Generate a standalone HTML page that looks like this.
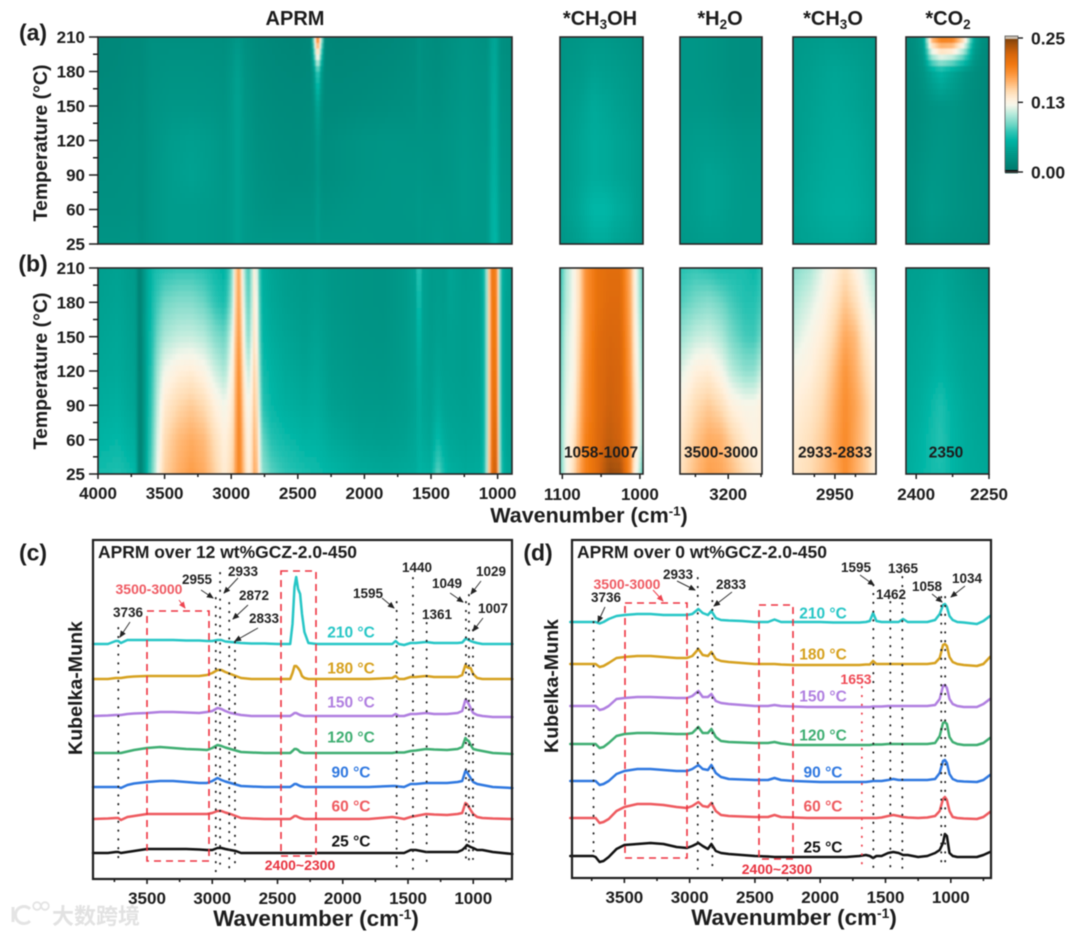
<!DOCTYPE html>
<html lang="en">
<head>
<meta charset="utf-8">
<title>Kubelka-Munk heatmaps and spectra</title>
<style>
html,body{margin:0;padding:0;background:#fff;}
svg{display:block;filter:blur(0.4px);}
text{font-family:"Liberation Sans","Noto Sans CJK SC",sans-serif;font-weight:bold;}
</style>
</head>
<body>
<svg id="figure" xmlns="http://www.w3.org/2000/svg" width="1080" height="935" viewBox="0 0 1080 935">
  <defs>
    <filter id="soft" x="-5%" y="-5%" width="110%" height="110%"><feGaussianBlur stdDeviation="0.8"/></filter>
    <marker id="arrowBlack" markerWidth="7" markerHeight="6" refX="6" refY="3" orient="auto" markerUnits="userSpaceOnUse"><path d="M0,0 L7,3 L0,6 Z" fill="#222"/></marker>
    <marker id="arrowRed" markerWidth="7" markerHeight="6" refX="6" refY="3" orient="auto" markerUnits="userSpaceOnUse"><path d="M0,0 L7,3 L0,6 Z" fill="#ee4450"/></marker>
  </defs>
</svg>
<script>
// ---------- Shared axis data ----------
const temperatureLabels = [210, 180, 150, 120, 90, 60, 25];
const colorbarTicks = [0, 0.13, 0.25];
const colormapValues = [0, 0.025, 0.04, 0.06, 0.075, 0.09, 0.11, 0.125, 0.135, 0.15, 0.17, 0.185, 0.2, 0.22, 0.24, 0.25];
const colormapColors = ['#00766a','#008f80','#009e8e','#00b5a5','#2fc4b4','#72d7c6','#bcebdc','#f4f6ea','#fff1de','#ffddb5','#ffb068','#fb9235','#f27a12','#d8660a','#a04f0a','#7a3f0a'];

// ---------- Heatmap (a) full range, intensities in 0.001 units ----------
const aMainWavenumbers = [4000,3850,3720,3680,3600,3450,3300,3150,3050,2990,2950,2900,2800,2650,2500,2400,2375,2350,2325,2300,2200,2000,1800,1620,1590,1560,1450,1350,1250,1150,1080,1050,1030,1010,980,892];
const aMainT210 = [17,18,20,20,25,25,25,25,24,28,33,26,20,17,15,17,120,215,120,17,15,16,18,22,28,25,22,26,30,28,26,40,48,44,26,22];
const aMainT180 = [18,19,22,21,27,29,29,28,27,34,42,30,22,19,18,19,40,85,40,19,18,19,21,24,30,26,24,28,32,30,30,42,52,46,28,24];
const aMainT150 = [20,21,24,22,29,32,32,31,29,36,44,32,24,21,20,21,28,48,28,20,20,22,24,26,30,28,26,30,33,31,30,44,56,48,30,26];
const aMainT120 = [23,24,26,24,30,38,41,37,32,37,44,34,26,23,22,23,26,36,26,23,26,30,31,30,30,30,30,32,35,33,32,45,56,50,32,28];
const aMainT90  = [25,26,27,24,31,39,43,38,33,37,44,35,28,24,23,24,26,34,26,24,26,30,32,32,33,32,30,32,36,34,34,48,58,52,34,30];
const aMainT60  = [27,27,28,24,32,38,38,36,34,38,44,36,30,27,28,28,30,38,30,28,30,32,32,33,36,33,34,33,36,34,34,50,62,55,36,32];
const aMainT25  = [30,30,31,26,32,38,38,36,34,38,44,36,34,34,34,33,33,38,33,33,33,33,32,32,34,33,36,33,34,34,34,50,62,58,36,34];

// ---------- Heatmap (b) full range ----------
const bMainWavenumbers = [4000,3850,3720,3690,3660,3620,3580,3540,3500,3400,3300,3200,3120,3050,3000,2975,2955,2935,2910,2880,2855,2838,2820,2800,2770,2700,2600,2450,2360,2250,2050,1850,1700,1610,1590,1570,1500,1450,1400,1360,1250,1130,1090,1072,1055,1035,1015,1000,990,975,940,892];
const bMainT210 = [40,43,36,8,30,52,65,70,72,75,75,72,64,58,85,130,178,168,120,80,85,125,145,92,55,46,40,35,38,33,30,29,35,46,98,44,37,38,37,46,38,42,72,128,195,205,195,180,118,62,46,40];
const bMainT180 = [42,45,38,8,30,55,72,82,90,95,95,88,75,68,95,135,178,172,130,88,90,128,150,100,58,48,42,37,40,34,30,29,35,44,82,44,37,40,38,44,40,42,70,125,190,205,198,182,118,60,44,40];
const bMainT150 = [45,48,40,8,30,58,78,95,105,112,113,108,95,88,115,145,180,178,140,98,102,135,155,108,62,52,46,40,44,36,31,30,36,44,70,44,38,42,40,42,40,43,70,125,190,205,200,185,118,60,44,40];
const bMainT120 = [48,50,42,8,28,60,85,110,125,135,138,130,115,105,128,150,185,185,150,115,118,142,165,120,68,58,50,44,48,38,33,32,36,44,60,44,40,46,42,42,40,44,70,125,192,205,205,188,120,60,44,40];
const bMainT90  = [52,55,45,8,28,62,90,120,140,152,158,150,135,125,138,155,188,190,158,128,128,150,170,130,75,62,55,50,52,42,36,35,38,44,56,46,42,52,45,44,42,45,70,125,192,208,212,190,120,62,44,40];
const bMainT60  = [58,62,52,8,28,65,95,128,150,165,172,165,148,135,145,160,190,192,165,135,132,160,175,140,90,72,65,58,58,50,42,40,42,48,56,50,46,65,52,48,45,47,72,125,192,212,222,195,122,65,46,42];
const bMainT25  = [66,70,62,8,30,70,100,135,155,170,180,172,155,138,150,165,190,192,170,140,135,165,180,150,100,85,75,68,65,60,52,48,50,52,60,58,55,88,65,55,50,52,75,128,195,215,232,200,125,70,50,45];

// ---------- Zoomed heatmaps: top row 210 C, bottom row 25 C ----------
const aCh3ohWavenumbers = [1103,1090,1075,1060,1045,1030,1015,1005,996];
const aCh3ohValues = [
 [28,30,32,34,34,32,30,28,26],[30,34,36,42,40,38,34,32,30],[32,38,42,50,46,42,38,34,32],
 [34,40,46,52,50,46,42,38,34],[34,40,46,52,50,46,42,38,34],[34,42,50,62,62,54,48,40,34],[32,36,42,50,50,44,40,36,32]];
const h2oWavenumbers = [3347,3300,3260,3225,3190,3150,3120,3097];
const aH2oValues = [
 [32,32,30,28,25,24,24,26],[32,32,30,28,25,24,24,26],[33,33,32,30,27,26,26,28],
 [35,38,38,36,34,32,32,33],[36,40,44,42,38,35,34,35],[36,40,44,42,38,36,36,36],[34,36,38,38,36,36,36,36]];
const ch3oWavenumbers = [3052,3010,2975,2950,2925,2900,2875,2850];
const aCh3oValues = [
 [34,36,38,38,36,35,34,33],[36,40,44,46,44,42,38,35],[38,42,46,48,46,44,40,37],
 [38,44,48,50,50,48,44,38],[40,46,50,52,52,50,46,40],[42,48,52,54,54,52,48,42],[40,44,46,48,48,46,42,38]];
const aCo2Wavenumbers = [2421,2400,2385,2370,2350,2325,2300,2280,2265,2250];
const aCo2Values = [
 [20,26,40,170,205,205,150,45,26,20],[20,24,30,45,60,45,30,24,20,18],[20,22,25,28,30,30,25,22,20,18],
 [22,24,27,30,32,30,26,24,22,20],[24,27,30,33,33,30,26,25,24,22],[24,28,32,36,34,30,27,25,24,22],[22,26,28,30,28,26,25,24,22,20]];
const bCh3ohWavenumbers = [1103,1095,1085,1078,1070,1055,1040,1025,1012,1007,1002,996];
const bCh3ohValues = [
 [70,105,128,150,185,208,213,213,170,135,110,85],[75,108,128,150,185,208,215,215,172,138,112,88],
 [80,115,130,155,185,212,220,218,175,140,118,95],[85,118,130,160,188,214,222,220,178,145,122,100],
 [88,122,135,165,190,214,224,220,182,150,128,105],[90,125,145,170,195,216,228,222,185,150,128,105],
 [85,125,150,175,195,214,242,238,185,135,118,80]];
const bH2oValues = [
 [72,76,72,68,68,68,62,75],[82,92,96,90,80,72,72,80],[100,112,115,108,92,80,78,92],
 [118,135,138,128,110,98,98,115],[132,150,158,150,135,128,128,135],[140,160,172,170,155,140,132,135],[145,165,178,175,165,150,140,135]];
const bCh3oValues = [
 [95,105,125,135,148,133,118,100],[105,118,132,145,160,148,128,112],[115,128,140,155,174,165,140,125],
 [128,135,148,165,184,170,150,130],[135,142,155,172,188,176,158,135],[138,148,160,176,190,174,158,135],[142,150,162,172,188,172,158,135]];
const bCo2Wavenumbers = [2421,2390,2370,2350,2325,2300,2275,2250];
const bCo2Values = [
 [40,42,44,46,42,36,30,28],[42,44,48,50,44,40,36,32],[44,48,50,54,48,44,42,40],
 [46,50,54,58,52,46,44,42],[48,54,62,70,58,50,46,44],[50,58,66,72,60,52,48,46],[52,60,66,68,60,52,50,48]];

// ---------- Spectra (c) ----------
const spectraTemperatures = ['210 °C','180 °C','150 °C','120 °C','90 °C','60 °C','25 °C'];
const spectraColors = ['#27c6c6','#d6a11f','#b07fe0','#3fae72','#2f78e0','#ee5a5f','#111111'];
const cWavenumbers = [3914,3800,3740,3720,3700,3650,3600,3500,3400,3300,3200,3100,3040,3000,2960,2930,2900,2860,2820,2780,2700,2600,2500,2420,2403,2385,2370,2357,2342,2327,2312,2294,2263,2200,2000,1800,1620,1595,1570,1530,1480,1440,1361,1300,1200,1120,1085,1060,1049,1035,1020,1000,970,930,850,700];
const cOffsets = [235,200,163,126,92,60,26];
const c210 = [0,0,3,3,1, 4,4,4,4,4, 3.5,3.5,3,3,4, 4,2.5,2,1.5,1, .5,.5,0,0,0, 20,57,67,55,50, 30,12,1,0,0, 0,0,3,0,-1, 1,1,2,1,1, 1,1.5,5,5,4, 3,2,1,0,0,0];
const c180 = [0,0,1,1,1, 2,2.5,3,3,3, 3,3,4,6,9, 9,7,5,3,1, 0,0,0,0,0, 6,13,13,11,8, 3,1,0,0,0, 0,1,3,0,0, 2,2,3,2,2, 2,4,14,12,11, 11,5,1,0,0,0];
const c150 = [0,.5,1,1,1, 2,2.5,3,4,4, 3.5,3,4,5,8, 7,5,3,2,1, 0,0,0,0,0, 1.5,3,3,2,1, .5,0,0,0,0, 0,0,2,0,0, 2,2,3,2,2, 3,5,16,15,12, 8,3,1,0,-1,-1];
const c120 = [0,0,0,0,0, 1.5,3,5,6,5, 4,3.5,3,5,8, 7,5.5,4,2.5,1, .5,0,0,0,0, 2,4,4,3,1, .5,0,0,0,0, 0,0,.5,.5,.5, 2,2.5,4,3.5,3, 4,6,15,13,12, 8,4,3,2,0,-1];
const c90  = [0,0,0,0,-1, 2,3.5,5,6,6, 5,4,4,6,9, 7,5.5,4,2.5,1, .5,0,0,0,0, 1.5,3,3,2,1, .5,0,0,0,0, 0,1,1,.5,0, 3,3,4,4,4, 5,6,16,15,12, 9,5,3,2,0,-1];
const c60  = [0,.5,1,1,-1, 2,3,5,5,5, 5,5,5,6,8, 8,6.5,5,3,1, .5,0,0,0,0, 1.5,3,3,2,1, .5,0,0,0,0, 0,2,1.5,1,0, 2,3,5,4.5,4, 5,6,16,15,12, 9,5,2,1,.5,0];
const c25  = [0,0,1,1,0, 1,2,4,4,4, 4,3.5,3,3,5, 5,4,3,2,0, 0,0,0,0,0, 0,0,0,0,0, 0,0,0,0,0, 0,0,0,0,0, 3,3,1,1,1, 1,3,6,8,7, 6,5,3,3,1,-1];

// ---------- Spectra (d) ----------
const dWavenumbers = [3914,3800,3740,3720,3690,3660,3620,3560,3500,3400,3300,3200,3100,3020,2980,2933,2900,2860,2833,2800,2760,2700,2600,2500,2400,2350,2300,2200,2100,2000,1900,1800,1700,1650,1620,1595,1570,1530,1480,1440,1400,1365,1330,1250,1180,1120,1085,1060,1045,1030,1010,985,950,900,800,750,700];
const dOffsets = [256,214,172,134,97,60,22];
const d210 = [0,0,0,0,-1.5, 0,3,6,7,8, 8,7,7,7,8, 13,9,7,11,4, 2,1.5,1,0,0, 2.5,0,0,0,0, -.5,-.5,-.5,0,1, 9,1,0,0,0, 0,3,0,0,0, 2,8,17,18,15, 6,2,0,-.5,-2, 1,6];
const d180 = [0,0,0,0,-3, -2,1,6,7,8, 8,7,6,6,8, 15,9,8,12,5, 3,2,1,0,0, 0,-.5,-1,-1,-1, -1,-1,-1,-.5,-.5, 3,0,0,0,0, 0,0,0,0,0, 1,6,19,20,18, 7,2,0,-1,-2, 0,7];
const d150 = [0,0,0,0,-4, -3,0,7,8,9, 9,8.5,8,8,10, 15,9,9,12,5, 3,2,1,0,0, 1,0,-.5,-1,-1, -1,-1,-1,-1,-1, -.5,-.5,-.5,0,0, 0,0,0,0,0, 1,7,20,21,18, 7,2,0,-1,-1, 2,7];
const d120 = [0,0,0,0,-4, -3,1,8,10,11, 11,10.5,10,10,11, 17,11,11,15,7, 3,2,1.5,1,1, 2,.5,-1,-1,-1, -1,-1,-1,-1,-1, -.5,-.5,-.5,0,0, 0,0,0,0,0, 1,8,21,22,20, 7,2,0,-1,-1, 1,6];
const d90  = [0,0,0,0,-4, -3,0,7,10,12, 12,11,10,10,12, 16,12,11,16,8, 4,2,1.5,1,1, 3,1,0,-.5,-1, -1,-1,-1,-1,-.5, 0,0,0,1,2, 1,1,1,1,1, 2,8,20,21,18, 7,2,0,-.5,-1, 1,6];
const d60  = [0,0,0,0,-5, -4,-1,7,11,14, 14,13,11,10,12, 16,12,11,15,7, 3,2,1.5,1,1, 3,1,.5,0,0, 0,0,0,0,0, 0,0,.5,2,3, 2,1,.5,0,.5, 2,7,19,21,18, 7,1,0,-.5,-1, 1,6];
const d25  = [0,0,0,-1,-6, -5,-1,7,11,12, 13,12,9,8,10, 13,10,7,12,5, 3,2,1,0,-.5, -1,-1,-1,-1,-1, -1,-1,0,1,0, -2,0,0,3,4, 3,1,1,-1,0, 3,6,13,22,20, 3,0,-1,-1,-1, 1,4];

// ---------- Tick labels ----------
const bMainXTicks = [4000,3500,3000,2500,2000,1500,1000];
const spectraXTicks = [3500,3000,2500,2000,1500,1000];

// ---------- Helpers ----------
const NS = 'http://www.w3.org/2000/svg';
const root = document.getElementById('figure');
function mk(tag, parent, name) {
  const e = document.createElementNS(NS, tag);
  
  
  parent.appendChild(e);
  return e;
}
function attrs(e, o) { for (const k in o) e.setAttribute(k, o[k]); return e; }
function label(parent, name, str, x, y, size, anchor, fill) {
  const t = mk('text', parent, name);
  attrs(t, {x: x, y: y, 'font-size': size, 'text-anchor': anchor || 'middle', fill: fill || '#1c1c1c', dy: '0.36em'});
  t.textContent = str;
  return t;
}
function line(parent, name, x1, y1, x2, y2, stroke, width) {
  const l = mk('line', parent, name);
  attrs(l, {x1: x1, y1: y1, x2: x2, y2: y2, stroke: stroke || '#1c1c1c', 'stroke-width': width || 1.5});
  return l;
}
function linear(d0, d1, r0, r1) { return v => r0 + (v - d0) * (r1 - r0) / (d1 - d0); }
function hexRgb(h) { return [parseInt(h.slice(1,3),16), parseInt(h.slice(3,5),16), parseInt(h.slice(5,7),16)]; }
function colorScale(v) {
  const vs = colormapValues;
  if (v <= vs[0]) return colormapColors[0];
  for (let i = 1; i < vs.length; i++) {
    if (v <= vs[i]) {
      const f = (v - vs[i-1]) / (vs[i] - vs[i-1]);
      const a = hexRgb(colormapColors[i-1]), b = hexRgb(colormapColors[i]);
      return 'rgb(' + a.map((c, j) => Math.round(c + (b[j] - c) * f)).join(',') + ')';
    }
  }
  return colormapColors[colormapColors.length - 1];
}
let clipCounter = 0;
function heatmap(name, wnStart, wnEnd, x0, x1, y0, y1, wavenumbers, rows) {
  const g = mk('g', root, name);
  const id = 'clip' + (clipCounter++);
  const clip = mk('clipPath', g, name + '-clip');
  clip.setAttribute('id', id);
  attrs(mk('rect', clip, name + '-clip-rect'), {x: x0, y: y0, width: x1 - x0, height: y1 - y0});
  const clipped = mk('g', g, name + '-cells');
  clipped.setAttribute('clip-path', 'url(#' + id + ')');
  const soft = mk('g', clipped, name + '-cell-layer');
  soft.setAttribute('filter', 'url(#soft)');
  const xOf = linear(wnStart, wnEnd, x0, x1);
  const rowStep = (y1 - y0) / (rows.length - 1);
  const subRows = 6;
  for (let c = 0; c < wavenumbers.length - 1; c++) {
    const xa = xOf(wavenumbers[c]), xb = xOf(wavenumbers[c + 1]);
    const subCols = Math.max(1, Math.ceil((xb - xa) / 3));
    const sw = (xb - xa) / subCols;
    for (let s = 0; s < subCols; s++) {
      const fx = (s + 0.5) / subCols;
      for (let r = 0; r < rows.length - 1; r++) {
        for (let q = 0; q < subRows; q++) {
          const fy = (q + 0.5) / subRows;
          const top = rows[r][c] + (rows[r][c + 1] - rows[r][c]) * fx;
          const bot = rows[r + 1][c] + (rows[r + 1][c + 1] - rows[r + 1][c]) * fx;
          const value = (top + (bot - top) * fy) / 1000;
          const cell = document.createElementNS(NS, 'rect');
          
          
          cell.setAttribute('x', (xa + s * sw).toFixed(2));
          cell.setAttribute('y', (y0 + (r + q / subRows) * rowStep).toFixed(2));
          cell.setAttribute('width', (sw + 0.6).toFixed(2));
          cell.setAttribute('height', (rowStep / subRows + 0.6).toFixed(2));
          cell.setAttribute('fill', colorScale(value));
          cell.setAttribute('shape-rendering', 'crispEdges');
          soft.appendChild(cell);
        }
      }
    }
  }
  attrs(mk('rect', g, name + '-frame'), {x: x0, y: y0, width: x1 - x0, height: y1 - y0, fill: 'none', stroke: '#262626', 'stroke-width': 1.6});
  return {x: xOf, g: g};
}
function temperatureAxis(name, x, y0, y1) {
  const g = mk('g', root, name);
  const step = (y1 - y0) / (temperatureLabels.length - 1);
  temperatureLabels.forEach((t, i) => {
    const y = y0 + i * step;
    line(g, 'y-tick', x - 9, y, x, y, '#1c1c1c', 1.5);
    label(g, 'y-tick-label', String(t), x - 13, y, 17, 'end');
    if (i < temperatureLabels.length - 1) line(g, 'y-minor-tick', x - 5, y + step / 2, x, y + step / 2, '#1c1c1c', 1.5);
  });
}
function sub(t, str) {
  const s = mk('tspan', t, 'subscript');
  attrs(s, {'font-size': 13.5, dy: 4});
  s.textContent = str;
}
function chemTitle(name, before, index, after, x, y) {
  const t = label(root, name, '', x, y, 20);
  t.removeAttribute('dy');
  t.setAttribute('y', y + 7);
  const a = mk('tspan', t, 'title-main');
  a.textContent = before;
  sub(t, index);
  if (after) {
    const b = mk('tspan', t, 'title-rest');
    attrs(b, {dy: -4});
    b.textContent = after;
  }
}
function rotated(name, str, x, y, size) {
  const t = label(root, name, str, 0, 0, size);
  t.setAttribute('transform', 'translate(' + x + ' ' + y + ') rotate(-90)');
}
function wavenumberTitle(name, x, y, size) {
  const t = label(root, name, 'Wavenumber (cm', x, y, size);
  const s = mk('tspan', t, 'superscript');
  attrs(s, {'font-size': size * 0.62, dy: -7});
  s.textContent = '-1';
  const e = mk('tspan', t, 'title-close');
  attrs(e, {dy: 7});
  e.textContent = ')';
}

// ---------- Panel titles ----------
label(root, 'panel-a-label', '(a)', 33, 32, 23);
label(root, 'panel-b-label', '(b)', 33, 263, 23);
label(root, 'panel-c-label', '(c)', 33, 552, 23);
label(root, 'panel-d-label', '(d)', 538, 552, 23);
label(root, 'aprm-title', 'APRM', 295, 18, 20);
chemTitle('ch3oh-title', '*CH', '3', 'OH', 600, 18);
chemTitle('h2o-title', '*H', '2', 'O', 720, 18);
chemTitle('ch3o-title', '*CH', '3', 'O', 833, 18);
chemTitle('co2-title', '*CO', '2', '', 948, 18);

// ---------- Heatmaps row (a) ----------
const aTop = 37, aBot = 244, bTop = 268, bBot = 474;
heatmap('heatmap-a-main', 4000, 892, 98, 512, aTop, aBot, aMainWavenumbers, [aMainT210, aMainT180, aMainT150, aMainT120, aMainT90, aMainT60, aMainT25]);
heatmap('heatmap-a-ch3oh', 1103, 996, 560, 643, aTop, aBot, aCh3ohWavenumbers, aCh3ohValues);
heatmap('heatmap-a-h2o', 3347, 3097, 680, 762, aTop, aBot, h2oWavenumbers, aH2oValues);
heatmap('heatmap-a-ch3o', 3052, 2850, 793, 876, aTop, aBot, ch3oWavenumbers, aCh3oValues);
heatmap('heatmap-a-co2', 2421, 2250, 906, 989, aTop, aBot, aCo2Wavenumbers, aCo2Values);
temperatureAxis('temperature-axis-a', 98, aTop, aBot);
rotated('temperature-axis-a-title', 'Temperature (°C)', 40, 143, 19.5);

// ---------- Heatmaps row (b) ----------
const bMain = heatmap('heatmap-b-main', 4000, 892, 98, 512, bTop, bBot, bMainWavenumbers, [bMainT210, bMainT180, bMainT150, bMainT120, bMainT90, bMainT60, bMainT25]);
const bA = heatmap('heatmap-b-ch3oh', 1103, 996, 560, 643, bTop, bBot, bCh3ohWavenumbers, bCh3ohValues);
const bB = heatmap('heatmap-b-h2o', 3347, 3097, 680, 762, bTop, bBot, h2oWavenumbers, bH2oValues);
const bC = heatmap('heatmap-b-ch3o', 3052, 2850, 793, 876, bTop, bBot, ch3oWavenumbers, bCh3oValues);
const bD = heatmap('heatmap-b-co2', 2421, 2250, 906, 989, bTop, bBot, bCo2Wavenumbers, bCo2Values);
temperatureAxis('temperature-axis-b', 98, bTop, bBot);
rotated('temperature-axis-b-title', 'Temperature (°C)', 40, 371, 19.5);

function xTicks(name, scale, majors, minors, y, labelY) {
  const g = mk('g', root, name);
  majors.forEach(v => {
    line(g, 'x-tick', scale(v), y, scale(v), y + 5, '#1c1c1c', 1.5);
    label(g, 'x-tick-label', String(v), scale(v), labelY, 17);
  });
  minors.forEach(v => {
    line(g, 'x-minor-tick', scale(v), y, scale(v), y + 3, '#1c1c1c', 1.5);
  });
}
xTicks('x-axis-b-main', bMain.x, bMainXTicks, [3750,3250,2750,2250,1750,1250], bBot, 493);
xTicks('x-axis-b-ch3oh', bA.x, [1100,1000], [1050], bBot, 494);
xTicks('x-axis-b-h2o', bB.x, [3200], [3300,3100], bBot, 494);
xTicks('x-axis-b-ch3o', bC.x, [2950], [3000,2900], bBot, 494);
xTicks('x-axis-b-co2', bD.x, [2400,2250], [2325], bBot, 494);
wavenumberTitle('x-axis-b-title', 589, 515, 21.5);
label(root, 'band-label-ch3oh', '1058-1007', 601, 452, 15.5);
label(root, 'band-label-h2o', '3500-3000', 721, 452, 15.5);
label(root, 'band-label-ch3o', '2933-2833', 835, 452, 15.5);
label(root, 'band-label-co2', '2350', 946, 452, 15.5);

// ---------- Colorbar ----------
(function () {
  const g = mk('g', root, 'colorbar');
  const yOf = linear(0, 0.25, 172, 38);
  const strips = 67;
  for (let i = 0; i < strips; i++) {
    const v = 0.25 * i / (strips - 1);
    const r = mk('rect', g, 'colorbar-strip');
    attrs(r, {x: 1005, y: yOf(v) - 1.3, width: 13, height: 2.6, fill: colorScale(v)});
  }
  attrs(mk('rect', g, 'colorbar-top-cap'), {x: 1005, y: 36, width: 13, height: 3, fill: '#c9bdb0'});
  attrs(mk('rect', g, 'colorbar-bottom-cap'), {x: 1005, y: 170, width: 13, height: 3, fill: '#111'});
  attrs(mk('rect', g, 'colorbar-frame'), {x: 1005, y: 36, width: 13, height: 136, fill: 'none', stroke: '#555', 'stroke-width': 0.8});
  colorbarTicks.forEach(v => {
    line(g, 'colorbar-tick', 1018, yOf(v), 1023, yOf(v), '#1c1c1c', 1.4);
    label(g, 'colorbar-tick-label', v.toFixed(2), 1031, yOf(v), 17.5, 'start');
  });
})();

// ---------- Spectra ----------
function spectraPanel(name, left, right, top, bottom, xStart, xEnd, wavenumbers, series, offsets, title, titleWidth, tempX, tempY) {
  const g = mk('g', root, name);
  const x = linear(xStart, xEnd, left, right);
  const y = v => bottom - v;
  series.forEach((vals, s) => {
    const p = mk('path', g, 'spectrum-' + spectraTemperatures[s].replace(' °C', 'c'));
    const d = vals.map((v, i) => (i ? 'L' : 'M') + x(wavenumbers[i]).toFixed(1) + ',' + y(v + offsets[s]).toFixed(1)).join(' ');
    attrs(p, {d: d, fill: 'none', stroke: spectraColors[s], 'stroke-width': 2.5, 'stroke-linejoin': 'round', 'stroke-linecap': 'round'});
    label(g, 'temperature-label', spectraTemperatures[s], tempX, tempY[s], 15.5, 'middle', spectraColors[s]);
  });
  attrs(mk('rect', g, name + '-frame'), {x: left, y: top, width: right - left, height: bottom - top, fill: 'none', stroke: '#1f1f1f', 'stroke-width': 2.2});
  const tickG = mk('g', g, name + '-x-axis');
  spectraXTicks.forEach(v => {
    line(tickG, 'x-tick', x(v), bottom, x(v), bottom + 5, '#1c1c1c', 1.6);
    label(tickG, 'x-tick-label', String(v), x(v), bottom + 19, 17);
  });
  [3750,3250,2750,2250,1750,1250,750].forEach(v => {
    line(tickG, 'x-minor-tick', x(v), bottom, x(v), bottom + 3, '#1c1c1c', 1.6);
  });
  const tt = label(g, name + '-title', title, left + 5, 552, 17.2, 'start');
  tt.setAttribute('textLength', titleWidth);
  tt.setAttribute('lengthAdjust', 'spacingAndGlyphs');
  return {g: g, x: x};
}
function dotted(panel, wn, yTop, yBottom, color) {
  const l = line(panel.g, 'peak-guide-' + wn, panel.x(wn), yTop, panel.x(wn), yBottom, color || '#222', 1.9);
  l.setAttribute('stroke-dasharray', '0.4 8.4');
  l.setAttribute('stroke-linecap', 'round');
}
function callout(panel, str, lx, ly, ax1, ay1, ax2, ay2) {
  label(panel.g, 'peak-label-' + str, str, lx, ly, 13.5, 'middle', '#222');
  if (ax1 !== undefined) {
    const a = line(panel.g, 'peak-arrow-' + str, ax1, ay1, ax2, ay2, '#333', 1);
    a.setAttribute('marker-end', 'url(#arrowBlack)');
  }
}
function redBox(panel, name, x1, y1, x2, y2) {
  const r = mk('rect', panel.g, name);
  attrs(r, {x: x1, y: y1, width: x2 - x1, height: y2 - y1, fill: 'none', stroke: '#ee3340', 'stroke-width': 1.6, 'stroke-dasharray': '7 5'});
}

const panelC = spectraPanel('spectra-panel-c', 93, 512, 540, 879, 3914, 703, cWavenumbers, [c210, c180, c150, c120, c90, c60, c25], cOffsets, 'APRM over 12 wt%GCZ-2.0-450', 259, 351, [632, 668, 702, 737, 772, 806, 841]);
const panelD = spectraPanel('spectra-panel-d', 572, 991, 540, 878, 3901, 692, dWavenumbers, [d210, d180, d150, d120, d90, d60, d25], dOffsets, 'APRM over 0 wt%GCZ-2.0-450', 250, 823, [613, 654, 696, 735, 772, 806, 847]);

rotated('y-axis-c-title', 'Kubelka-Munk', 75, 688, 19.6);
rotated('y-axis-d-title', 'Kubelka-Munk', 551, 686, 19.6);
wavenumberTitle('x-axis-c-title', 316, 918, 22.4);
wavenumberTitle('x-axis-d-title', 794, 917, 22.4);

// Panel (c) annotations
dotted(panelC, 3720, 628, 863);
dotted(panelC, 2973, 598, 873);
dotted(panelC, 2940, 573, 865);
dotted(panelC, 2870, 603, 872);
dotted(panelC, 2826, 642, 868);
dotted(panelC, 1587, 602, 868);
dotted(panelC, 1462, 578, 871);
dotted(panelC, 1357, 623, 868);
dotted(panelC, 1056, 602, 865);
dotted(panelC, 1033, 595, 862);
dotted(panelC, 1002, 630, 859);
redBox(panelC, 'highlight-3500-3000', 147, 611, 209, 861);
redBox(panelC, 'highlight-2400-2300', 281, 571, 316, 856);
callout(panelC, '3736', 128, 612, 130, 622, 120, 637);
callout(panelC, '2955', 197, 579, 201, 590, 213, 598);
callout(panelC, '2933', 243, 571, 238, 578, 224, 593);
callout(panelC, '2872', 254, 595, 248, 605, 233, 619);
callout(panelC, '2833', 264, 618, 258, 628, 235, 641);
callout(panelC, '1595', 368, 593, 382, 598, 394, 608);
callout(panelC, '1440', 417, 567);
callout(panelC, '1361', 437, 614);
callout(panelC, '1049', 447, 583, 450, 593, 463, 602);
callout(panelC, '1029', 491, 571, 481, 581, 471, 594);
callout(panelC, '1007', 493, 608, 483, 618, 473, 631);
label(panelC.g, 'band-label-3500-3000', '3500-3000', 149, 589, 14, 'middle', '#ef5a62');
label(panelC.g, 'band-label-2400-2300', '2400~2300', 300, 865, 14, 'middle', '#e8323f');
line(panelC.g, 'band-arrow-3500-3000', 179, 600, 185, 608, '#ee4450', 1).setAttribute('marker-end', 'url(#arrowRed)');

// Panel (d) annotations
dotted(panelD, 3736, 622, 852);
dotted(panelD, 2938, 578, 870);
dotted(panelD, 2826, 592, 870);
dotted(panelD, 1593, 585, 872);
dotted(panelD, 1463, 602, 870);
dotted(panelD, 1371, 577, 869);
dotted(panelD, 1073, 597, 865);
dotted(panelD, 1043, 597, 865);
dotted(panelD, 1681, 687, 868, '#ee4450');
redBox(panelD, 'highlight-3500-3000', 625, 603, 687, 858);
redBox(panelD, 'highlight-2400-2300', 759, 605, 793, 859);
callout(panelD, '3736', 606, 597, 605, 607, 598, 622);
callout(panelD, '2933', 678, 574, 677, 581, 695, 590);
callout(panelD, '2833', 731, 584, 732, 592, 714, 606);
callout(panelD, '1595', 856, 567, 860, 575, 874, 585);
callout(panelD, '1365', 903, 568);
callout(panelD, '1462', 891, 594);
callout(panelD, '1058', 927, 586, 932, 594, 942, 602);
callout(panelD, '1034', 967, 578, 965, 586, 951, 597);
label(panelD.g, 'band-label-1653', '1653', 856, 679, 14, 'middle', '#ef4a55');
label(panelD.g, 'band-label-3500-3000', '3500-3000', 627, 584, 14, 'middle', '#ef5a62');
label(panelD.g, 'band-label-2400-2300', '2400~2300', 777, 869, 14, 'middle', '#e8323f');
line(panelD.g, 'band-arrow-3500-3000', 653, 590, 663, 601, '#ee4450', 1).setAttribute('marker-end', 'url(#arrowRed)');

// ---------- Watermark ----------
(function () {
  const g = mk('g', root, 'watermark');
  attrs(mk('path', g, 'watermark-logo-arc'), {d: 'M13,907 L13,922 M30,909 A8.5,8.5 0 1 0 30,921', fill: 'none', stroke: '#e4e4e4', 'stroke-width': 3});
  attrs(mk('circle', g, 'watermark-logo-ring-1'), {cx: 37, cy: 906, r: 3.8, fill: 'none', stroke: '#e4e4e4', 'stroke-width': 1.8});
  attrs(mk('circle', g, 'watermark-logo-ring-2'), {cx: 45, cy: 906, r: 3.8, fill: 'none', stroke: '#e4e4e4', 'stroke-width': 1.8});
  const t = label(g, 'watermark-text', '大数跨境', 52, 916, 22, 'start', '#e2e2e2');
  t.setAttribute('font-weight', 'normal');
})();
</script>
</body>
</html>
